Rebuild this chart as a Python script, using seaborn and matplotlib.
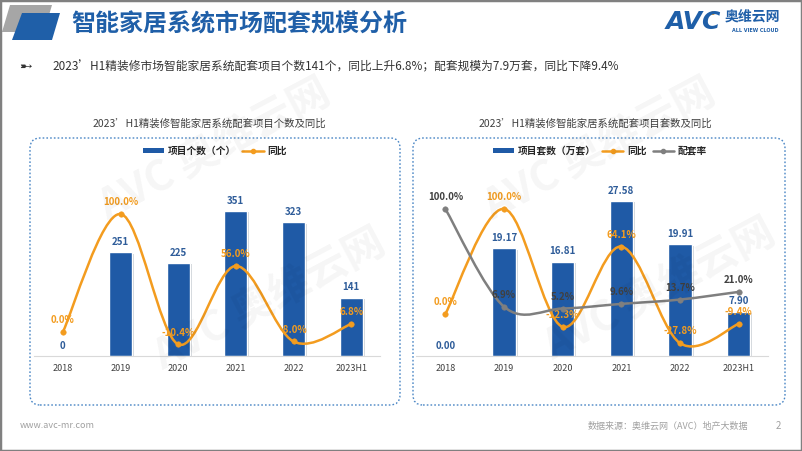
import matplotlib.pyplot as plt
import seaborn as sns
import pandas as pd
from matplotlib.patches import Polygon, FancyBboxPatch, Rectangle, PathPatch, Patch, Circle
from matplotlib.path import Path
from matplotlib.lines import Line2D
from matplotlib import patheffects as pe

# data
years = ["2018", "2019", "2020", "2021", "2022", "2023H1"]
project_counts = [0, 251, 225, 351, 323, 141]
count_yoy = [0.0, 100.0, -10.4, 56.0, -8.0, 6.8]
unit_sets = [0.00, 19.17, 16.81, 27.58, 19.91, 7.90]
sets_yoy = [0.0, 100.0, -12.3, 64.1, -27.8, -9.4]
fit_rate = [100.0, 6.9, 5.2, 9.6, 13.7, 21.0]

BLUE = "#1F5AA6"
ORANGE = "#F39C1F"
GRAY = "#7F7F7F"
TITLE_BLUE = "#1F5FA8"
CJK = ["Noto Sans CJK SC", "DejaVu Sans"]

sns.set_theme(style="white")
plt.rcParams["font.family"] = CJK

W, H = 802, 451
fig = plt.figure(figsize=(W / 100, H / 100), dpi=100)
fig.patch.set_facecolor("white")


def inch(x, y):
    # pixel position (top-left origin) -> inches for dpi_scale_trans
    return x / 100, (H - y) / 100


def smooth_path(xs, ys):
    # Excel-like smoothed line drawn as cubic bezier segments through the points
    pts = list(zip(xs, ys))
    n = len(pts)
    verts, codes = [pts[0]], [Path.MOVETO]
    for i in range(n - 1):
        p0, p1 = pts[max(i - 1, 0)], pts[i]
        p2, p3 = pts[i + 1], pts[min(i + 2, n - 1)]
        c1 = (p1[0] + (p2[0] - p0[0]) / 6, p1[1] + (p2[1] - p0[1]) / 6)
        c2 = (p2[0] - (p3[0] - p1[0]) / 6, p2[1] - (p3[1] - p1[1]) / 6)
        verts += [c1, c2, p2]
        codes += [Path.CURVE4] * 3
    return Path(verts, codes)


def draw_panel(left_px, right_px, bars, bar_fmt, bar_top, line_lim, lines):
    top_px, base_px = 170, 356
    ax = fig.add_axes([left_px / W, (H - base_px) / H,
                       (right_px - left_px) / W, (base_px - top_px) / H])
    df = pd.DataFrame({"year": years, "value": bars})
    sns.barplot(data=df, x="year", y="value", color=BLUE, width=0.4,
                saturation=1, ax=ax, zorder=2)
    for bar in ax.patches:
        bar.set_path_effects([pe.SimplePatchShadow(offset=(1.5, -1), alpha=0.2),
                              pe.Normal()])
    ax.set_xlim(-0.5, 5.5)
    ax.set_ylim(0, bar_top)
    ax.set_xlabel("")
    ax.set_ylabel("")
    ax.set_yticks([])
    ax.patch.set_alpha(0)
    for s in ["top", "left", "right"]:
        ax.spines[s].set_visible(False)
    ax.spines["bottom"].set_color("#D9D9D9")
    ax.spines["bottom"].set_linewidth(0.8)
    ax.tick_params(axis="x", length=0, labelsize=6.5, colors="#404040", pad=6)
    for i, v in enumerate(bars):
        ax.annotate(bar_fmt.format(v), (i, v), xytext=(0, 7.5),
                    textcoords="offset points", ha="center", va="center",
                    fontsize=7, fontweight="bold", color="#2E5C99")

    ax2 = ax.twinx()
    ax2.set_ylim(*line_lim)
    ax2.axis("off")
    for vals, color, txt_color in lines:
        ax2.add_patch(PathPatch(smooth_path(range(len(vals)), vals), fill=False,
                                edgecolor=color, lw=1.8, zorder=3))
        sns.scatterplot(x=list(range(len(vals))), y=vals, color=color, s=16,
                        edgecolor=color, ax=ax2, zorder=4, legend=False)
        for i, v in enumerate(vals):
            ax2.annotate(f"{v:.1f}%", (i, v), xytext=(0, 8.5),
                         textcoords="offset points", ha="center", va="center",
                         fontsize=7, fontweight="bold", color=txt_color)
    ax2.set_xlim(-0.5, 5.5)
    ax2.set_ylim(*line_lim)
    return ax


# left panel: project counts
draw_panel(34, 380, project_counts, "{:d}", 450, (-20.3, 137.3),
           [(count_yoy, ORANGE, ORANGE)])
# right panel: unit sets
draw_panel(416, 768, unit_sets, "{:.2f}", 33.1, (-40.0, 137.0),
           [(sets_yoy, ORANGE, ORANGE), (fit_rate, GRAY, "#404040")])

# dotted rounded frames around the two charts
for x0, x1 in [(30, 400), (413, 785)]:
    bx, by = inch(x0, 405)
    fig.add_artist(FancyBboxPatch((bx, by), (x1 - x0) / 100, 2.67,
                                  boxstyle="round,pad=0,rounding_size=0.1",
                                  transform=fig.dpi_scale_trans, fill=False,
                                  edgecolor="#4A86C5", lw=1.0,
                                  linestyle=(0, (1.2, 1.5))))

# legends
leg_font = dict(family=CJK, weight="bold", size=7)
bar_h = Patch(facecolor=BLUE, edgecolor="none")
yoy_h = Line2D([], [], color=ORANGE, lw=1.8, marker="o", markersize=3)
rate_h = Line2D([], [], color=GRAY, lw=1.8, marker="o", markersize=3)
fig.legend([bar_h, yoy_h], ["项目个数（个）", "同比"], loc="center",
           bbox_to_anchor=(215 / W, 1 - 151 / H), ncol=2, frameon=False,
           prop=leg_font, handlelength=2.2, handleheight=0.5,
           columnspacing=0.6, handletextpad=0.4)
fig.legend([bar_h, yoy_h, rate_h], ["项目套数（万套）", "同比", "配套率"],
           loc="center", bbox_to_anchor=(600 / W, 1 - 151 / H), ncol=3,
           frameon=False, prop=leg_font, handlelength=2.2, handleheight=0.5,
           columnspacing=0.6, handletextpad=0.4)

# chart subtitles
fig.text(209 / W, 1 - 124 / H, "2023’H1精装修智能家居系统配套项目个数及同比",
         ha="center", va="center", fontsize=7.5, color="#404040")
fig.text(595 / W, 1 - 124 / H, "2023’H1精装修智能家居系统配套项目套数及同比",
         ha="center", va="center", fontsize=7.5, color="#404040")

# header decoration
fig.add_artist(Polygon([inch(10, 5), inch(52, 5), inch(44, 32), inch(2, 32)],
                       closed=True, transform=fig.dpi_scale_trans,
                       facecolor="#A6A6A6", edgecolor="none"))
fig.add_artist(Polygon([inch(22, 13), inch(60, 13), inch(52, 40), inch(12, 40)],
                       closed=True, transform=fig.dpi_scale_trans,
                       facecolor=TITLE_BLUE, edgecolor="none"))
fig.text(71 / W, 1 - 24 / H, "智能家居系统市场配套规模分析", ha="left",
         va="center", fontsize=17.3, fontweight="bold", color=TITLE_BLUE)

# logo
fig.text(666 / W, 1 - 22 / H, "AVC", ha="left", va="center", fontsize=18,
         fontweight="bold", fontstyle="italic", color=TITLE_BLUE,
         family="DejaVu Sans")
fig.add_artist(Circle(inch(713, 13), 0.02, transform=fig.dpi_scale_trans,
                      facecolor=ORANGE, edgecolor="none"))
fig.text(752 / W, 1 - 17 / H, "奥维云网", ha="center", va="center",
         fontsize=10, fontweight="bold", color=TITLE_BLUE)
fig.text(755 / W, 1 - 31 / H, "ALL VIEW CLOUD", ha="center", va="center",
         fontsize=3.5, fontweight="bold", color=TITLE_BLUE, family="DejaVu Sans")

# key message line
fig.text(19 / W, 1 - 67 / H, "➸", ha="left", va="center", fontsize=11,
         fontweight="bold", color="#333333", family=["DejaVu Sans"])
fig.text(52 / W, 1 - 67 / H,
         "2023’H1精装修市场智能家居系统配套项目个数141个，同比上升6.8%；配套规模为7.9万套，同比下降9.4%",
         ha="left", va="center", fontsize=8.45, color="#333333")

# footer
fig.text(20 / W, 1 - 426 / H, "www.avc-mr.com", ha="left", va="center",
         fontsize=6.5, color="#A0A0A0")
fig.text(748 / W, 1 - 426 / H, "数据来源：奥维云网（AVC）地产大数据", ha="right",
         va="center", fontsize=6.5, color="#A0A0A0")
fig.text(778 / W, 1 - 426 / H, "2", ha="center", va="center", fontsize=7,
         color="#A0A0A0")

# faint watermarks
for wx, wy in [(215, 150), (270, 300), (600, 150), (660, 290)]:
    fig.text(wx / W, 1 - wy / H, "AVC 奥维云网", ha="center", va="center",
             fontsize=30, fontweight="bold", color="#000000", alpha=0.04,
             rotation=28, zorder=10)

# slide border
fig.add_artist(Rectangle((0, 0), 1, 1, transform=fig.transFigure, fill=False,
                         edgecolor="#808080", lw=2.5))

plt.savefig("out.png", dpi=100)
plt.close()
